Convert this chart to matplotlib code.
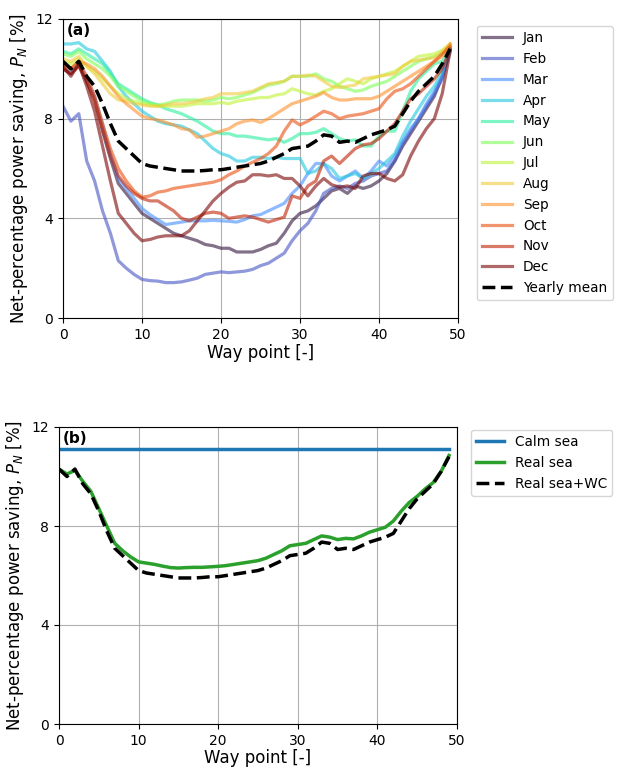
import numpy as np
import matplotlib
matplotlib.use("Agg")
import matplotlib.pyplot as plt

# Puntos de ruta (0..49)
way_points = np.arange(50)

meses = ["Jan", "Feb", "Mar", "Apr", "May", "Jun",
         "Jul", "Aug", "Sep", "Oct", "Nov", "Dec"]

jan = [10.0, 9.8, 10.2, 9.5, 8.8, 7.5, 6.4, 5.4, 5.0, 4.6,
       4.2, 4.0, 3.8, 3.6, 3.4, 3.3, 3.2, 3.1, 2.95, 2.9,
       2.8, 2.8, 2.65, 2.65, 2.65, 2.75, 2.9, 3.0, 3.4, 3.9,
       4.2, 4.3, 4.5, 4.8, 5.1, 5.2, 5.0, 5.3, 5.2, 5.3,
       5.5, 5.8, 6.3, 6.9, 7.4, 7.9, 8.4, 8.9, 9.7, 10.8]
feb = [8.5, 7.9, 8.2, 6.3, 5.5, 4.3, 3.4, 2.3, 2.0, 1.75,
       1.55, 1.5, 1.48, 1.42, 1.42, 1.45, 1.52, 1.6, 1.75, 1.8,
       1.85, 1.82, 1.85, 1.88, 1.95, 2.1, 2.2, 2.4, 2.6, 3.1,
       3.5, 3.8, 4.3, 5.0, 5.2, 5.3, 5.2, 5.4, 5.5, 5.7,
       5.8, 5.9, 6.3, 7.0, 7.5, 8.0, 8.5, 9.0, 9.6, 10.7]
mar = [10.2, 9.9, 10.3, 9.6, 8.9, 7.8, 6.6, 5.6, 5.2, 4.8,
       4.4, 4.15, 3.95, 3.75, 3.8, 3.85, 3.9, 3.9, 3.9, 3.92,
       3.9, 3.88, 3.85, 3.95, 4.1, 4.15, 4.3, 4.45, 4.6, 5.0,
       5.3, 5.8, 6.2, 6.2, 5.7, 5.5, 5.7, 5.9, 5.6, 5.9,
       6.3, 6.1, 6.5, 7.1, 7.6, 8.0, 8.6, 9.1, 9.7, 10.9]
apr = [11.0, 11.0, 11.05, 10.8, 10.7, 10.3, 9.9, 9.3, 8.9, 8.6,
       8.3, 8.1, 7.9, 7.8, 7.75, 7.7, 7.55, 7.4, 7.1, 6.8,
       6.6, 6.5, 6.3, 6.3, 6.45, 6.45, 6.4, 6.45, 6.4, 6.4,
       6.4, 5.8, 5.9, 6.2, 6.0, 5.6, 5.7, 5.8, 5.6, 5.8,
       6.0, 6.3, 6.6, 7.3, 7.9, 8.4, 8.9, 9.3, 9.9, 10.8]
may = [10.7, 10.6, 10.8, 10.6, 10.4, 10.2, 9.8, 9.4, 9.2, 9.0,
       8.8, 8.65, 8.55, 8.4, 8.3, 8.2, 8.05, 7.9, 7.7, 7.5,
       7.4, 7.4, 7.3, 7.3, 7.25, 7.2, 7.15, 7.2, 7.05, 7.2,
       7.4, 7.4, 7.45, 7.6, 7.4, 7.2, 7.1, 7.15, 6.9, 6.9,
       7.3, 7.5, 7.5, 8.3, 9.1, 9.6, 9.9, 10.2, 10.3, 10.8]
jun = [10.6, 10.5, 10.7, 10.4, 10.2, 10.0, 9.7, 9.3, 9.1, 8.9,
       8.7, 8.6, 8.55, 8.6, 8.7, 8.75, 8.75, 8.75, 8.7, 8.75,
       8.85, 8.8, 8.85, 8.95, 9.05, 9.2, 9.35, 9.4, 9.5, 9.7,
       9.7, 9.7, 9.8, 9.6, 9.5, 9.3, 9.2, 9.1, 9.15, 9.3,
       9.4, 9.5, 9.7, 9.9, 10.1, 10.3, 10.4, 10.5, 10.6, 10.9]
jul = [10.3, 10.2, 10.4, 10.1, 9.9, 9.6, 9.3, 9.0, 8.8, 8.7,
       8.6, 8.55, 8.5, 8.5, 8.5, 8.5, 8.55, 8.6, 8.6, 8.6,
       8.65, 8.6, 8.7, 8.75, 8.8, 8.85, 8.85, 8.95, 9.0, 9.2,
       9.1, 9.0, 8.95, 9.1, 9.2, 9.4, 9.6, 9.5, 9.4, 9.6,
       9.7, 9.8, 9.9, 10.1, 10.3, 10.5, 10.55, 10.6, 10.75, 11.0]
aug = [10.4, 10.3, 10.5, 10.1, 9.8, 9.4, 9.0, 8.75, 8.7, 8.6,
       8.55, 8.5, 8.5, 8.55, 8.6, 8.6, 8.65, 8.7, 8.8, 8.85,
       9.0, 9.0, 9.0, 9.05, 9.1, 9.25, 9.4, 9.45, 9.5, 9.7,
       9.7, 9.75, 9.7, 9.5, 9.3, 9.25, 9.3, 9.35, 9.6, 9.65,
       9.7, 9.75, 9.8, 10.1, 10.3, 10.35, 10.4, 10.45, 10.7, 11.0]
sep = [10.1, 10.0, 10.3, 10.2, 10.0, 9.7, 9.3, 8.9, 8.6, 8.35,
       8.1, 8.0, 7.95, 7.85, 7.75, 7.6, 7.55, 7.25, 7.3, 7.4,
       7.5, 7.6, 7.8, 7.9, 7.95, 7.85, 8.0, 8.2, 8.4, 8.6,
       8.7, 8.8, 8.9, 9.05, 8.85, 8.75, 8.75, 8.8, 8.8, 8.8,
       8.9, 9.1, 9.3, 9.5, 9.7, 9.9, 10.1, 10.3, 10.5, 11.0]
oct_ = [10.2, 10.0, 10.3, 9.7, 8.9, 7.8, 6.8, 6.0, 5.5, 5.1,
        4.85, 4.9, 5.05, 5.1, 5.2, 5.25, 5.3, 5.35, 5.4, 5.45,
        5.55, 5.75, 5.9, 6.1, 6.25, 6.4, 6.6, 6.9, 7.5, 7.95,
        7.75, 7.9, 8.1, 8.3, 8.2, 8.0, 8.1, 8.15, 8.2, 8.3,
        8.4, 8.8, 9.1, 9.2, 9.4, 9.7, 10.0, 10.3, 10.6, 10.9]
nov = [10.0, 9.8, 10.1, 9.5, 8.7, 7.6, 6.5, 5.7, 5.3, 5.0,
       4.8, 4.7, 4.7, 4.5, 4.3, 4.0, 3.9, 4.05, 4.2, 4.25,
       4.2, 4.0, 4.05, 4.1, 4.05, 3.95, 3.85, 3.95, 4.05, 4.9,
       4.8, 5.3, 5.5, 6.3, 6.5, 6.2, 6.5, 6.8, 6.95, 7.0,
       7.2, 7.5, 7.8, 8.3, 8.8, 9.0, 9.3, 9.6, 10.0, 10.8]
dec = [10.1, 9.7, 10.2, 9.3, 8.3, 6.9, 5.5, 4.2, 3.8, 3.4,
       3.1, 3.15, 3.25, 3.3, 3.3, 3.3, 3.5, 3.9, 4.3, 4.7,
       5.0, 5.25, 5.45, 5.5, 5.75, 5.75, 5.7, 5.75, 5.6, 5.6,
       5.3, 4.9, 5.3, 5.6, 5.35, 5.25, 5.3, 5.2, 5.7, 5.8,
       5.8, 5.6, 5.5, 5.75, 6.5, 7.1, 7.6, 8.0, 9.0, 10.7]

# Media anual (= mar real + WC)
yearly_mean = [10.3, 10.0, 10.3, 9.7, 9.3, 8.6, 7.8, 7.1, 6.8, 6.5,
               6.2, 6.1, 6.05, 6.0, 5.95, 5.9, 5.9, 5.9, 5.92, 5.95,
               5.95, 6.0, 6.05, 6.1, 6.15, 6.2, 6.3, 6.45, 6.6, 6.8,
               6.85, 6.9, 7.1, 7.35, 7.3, 7.05, 7.1, 7.05, 7.2, 7.35,
               7.45, 7.55, 7.7, 8.2, 8.7, 9.1, 9.4, 9.7, 10.2, 10.8]
real_sea = [10.3, 10.1, 10.25, 9.8, 9.4, 8.7, 8.0, 7.3, 7.0, 6.75,
            6.55, 6.5, 6.45, 6.38, 6.32, 6.3, 6.32, 6.33, 6.33, 6.35,
            6.37, 6.4, 6.45, 6.5, 6.55, 6.6, 6.7, 6.85, 7.0, 7.2,
            7.25, 7.3, 7.45, 7.6, 7.55, 7.45, 7.5, 7.48, 7.6, 7.75,
            7.85, 7.95, 8.2, 8.6, 8.95, 9.2, 9.5, 9.75, 10.2, 10.85]
calm_sea = 11.1

mensuales = [jan, feb, mar, apr, may, jun, jul, aug, sep, oct_, nov, dec]

fig = plt.figure(figsize=(6.18, 7.68), dpi=100)

# Panel (a)
ax1 = fig.add_axes([63 / 618, 1 - 318 / 768, 395 / 618, 299 / 768])
colores = plt.cm.turbo(np.linspace(0, 1, 12))
for nombre, valores, c in zip(meses, mensuales, colores):
    ax1.plot(way_points, valores, color=c, lw=2.3, alpha=0.6, label=nombre)
ax1.plot(way_points, yearly_mean, color="black", lw=2.5, ls="--", label="Yearly mean")
ax1.set_xlim(0, 50)
ax1.set_ylim(0, 12)
ax1.set_xticks([0, 10, 20, 30, 40, 50])
ax1.set_yticks([0, 4, 8, 12])
ax1.tick_params(labelsize=10)
ax1.grid(True)
ax1.set_xlabel("Way point [-]", fontsize=12, labelpad=2)
ax1.set_ylabel("Net-percentage power saving, $P_N$ [%]", fontsize=12)
ax1.text(0.01, 0.985, "(a)", transform=ax1.transAxes, fontweight="bold",
         fontsize=11, va="top", ha="left")
ax1.legend(loc="upper left", bbox_to_anchor=(1.03, 1.0), fontsize=9.8, handlelength=2.2)

# Panel (b)
ax2 = fig.add_axes([59 / 618, 1 - 724 / 768, 398 / 618, 297 / 768])
ax2.plot(way_points, [calm_sea] * len(way_points), color="tab:blue", lw=2.5, label="Calm sea")
ax2.plot(way_points, real_sea, color="tab:green", lw=2.5, label="Real sea")
ax2.plot(way_points, yearly_mean, color="black", lw=2.5, ls="--", label="Real sea+WC")
ax2.set_xlim(0, 50)
ax2.set_ylim(0, 12)
ax2.set_xticks([0, 10, 20, 30, 40, 50])
ax2.set_yticks([0, 4, 8, 12])
ax2.tick_params(labelsize=10)
ax2.grid(True)
ax2.set_xlabel("Way point [-]", fontsize=12, labelpad=1)
ax2.set_ylabel("Net-percentage power saving, $P_N$ [%]", fontsize=12)
ax2.text(0.01, 0.985, "(b)", transform=ax2.transAxes, fontweight="bold",
         fontsize=11, va="top", ha="left")
ax2.legend(loc="upper left", bbox_to_anchor=(1.025, 1.005), fontsize=9.8,
           handlelength=2.0, borderaxespad=0.3)

fig.savefig("out.png", dpi=100)
